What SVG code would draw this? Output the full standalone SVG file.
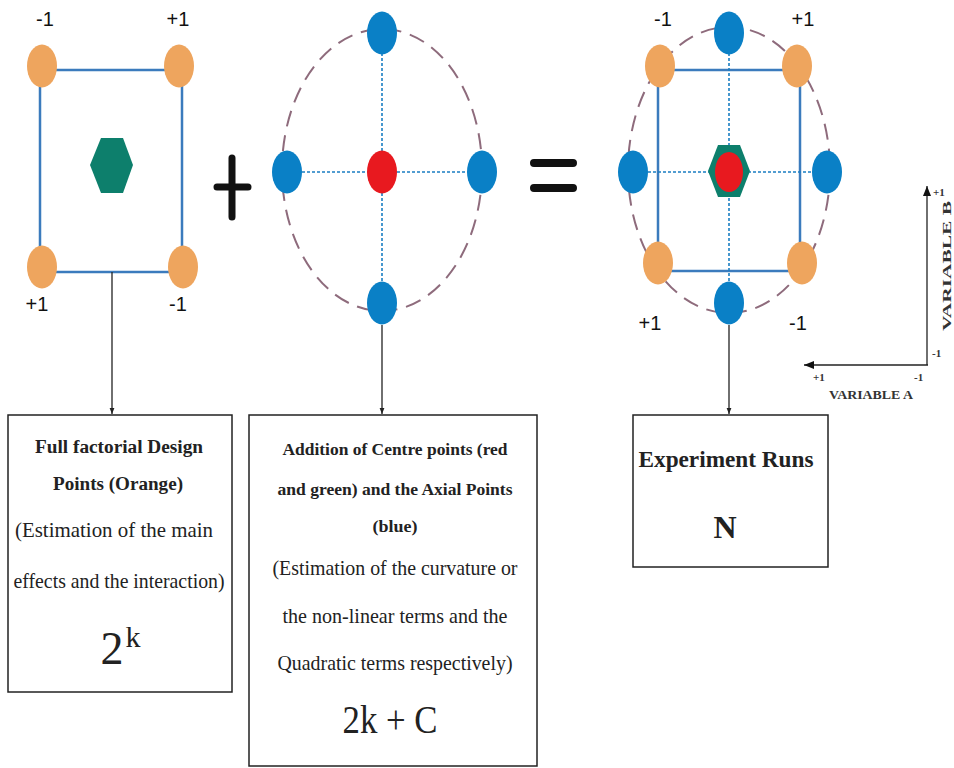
<svg xmlns="http://www.w3.org/2000/svg" width="954" height="768" viewBox="0 0 954 768">
<style>
.lbl{font-family:"Liberation Sans",Arial,sans-serif;font-size:20px;fill:#111;text-anchor:middle}
.b{font-family:"Liberation Serif","Times New Roman",serif;font-weight:bold;fill:#222;text-anchor:middle}
.r{font-family:"Liberation Serif","Times New Roman",serif;fill:#222;text-anchor:middle}
.ax{font-family:"Liberation Serif","Times New Roman",serif;font-weight:bold;fill:#333}
.or{fill:#eea55e}
.bl{fill:#0a80c6}
.rd{fill:#e8191f}
.gr{fill:#0d7f6c}
.sq{fill:none;stroke:#3b7bbd;stroke-width:2.5}
.dash{fill:none;stroke:#8e6b7c;stroke-width:2;stroke-dasharray:16 9}
.dot{fill:none;stroke:#1a7ec2;stroke-width:1.6;stroke-dasharray:3 2}
.conn{fill:none;stroke:#222;stroke-width:1.3}
.box{fill:#fff;stroke:#222;stroke-width:1.5}
.op{stroke:#111;stroke-linecap:round;fill:none}
</style>
<defs>
<marker id="arr" viewBox="0 0 10 10" refX="10" refY="5" markerWidth="6" markerHeight="6" orient="auto" markerUnits="userSpaceOnUse">
<path d="M0,1 L10,5 L0,9 Z" fill="#222"/>
</marker>
<marker id="arr2" viewBox="0 0 10 10" refX="10" refY="5" markerWidth="10" markerHeight="10" orient="auto" markerUnits="userSpaceOnUse">
<path d="M0,1 L10,5 L0,9 Z" fill="#111"/>
</marker>
</defs>
<rect width="954" height="768" fill="#fff"/>

<g id="factorial">
<rect class="sq" x="40" y="70" width="142" height="202"/>
<ellipse class="or" cx="42" cy="66" rx="15" ry="21.5"/>
<ellipse class="or" cx="179" cy="66" rx="15" ry="21.5"/>
<ellipse class="or" cx="42" cy="267" rx="15" ry="21.5"/>
<ellipse class="or" cx="183" cy="267" rx="15" ry="21.5"/>
<polygon class="gr" points="90,165 101,138 123,138 133,165 123,193 101,193"/>
<text class="lbl" x="45" y="26">-1</text>
<text class="lbl" x="178" y="26">+1</text>
<text class="lbl" x="37" y="311">+1</text>
<text class="lbl" x="178" y="311">-1</text>
</g>

<g id="plus"><path class="op" stroke-width="7" d="M232,158 V217 M217,187 H248"/></g>

<g id="axial">
<ellipse class="dash" cx="382" cy="170" rx="100" ry="141"/>
<path class="dot" d="M287,172 H482 M382,33 V303"/>
<ellipse class="bl" cx="382" cy="33" rx="15" ry="21.5"/>
<ellipse class="bl" cx="287" cy="172" rx="15" ry="21.5"/>
<ellipse class="bl" cx="482" cy="172" rx="15" ry="21.5"/>
<ellipse class="bl" cx="382" cy="303" rx="15" ry="21.5"/>
<ellipse class="rd" cx="382" cy="172" rx="15" ry="21.5"/>
</g>

<g id="equals"><path class="op" stroke-width="8" d="M534,163 H573 M534,188 H573"/></g>

<g id="ccd">
<ellipse class="dash" cx="729" cy="170" rx="101" ry="143"/>
<rect class="sq" x="658" y="70" width="142" height="201"/>
<path class="dot" d="M633,172 H827 M729,33 V303"/>
<ellipse class="or" cx="660" cy="66" rx="15" ry="21.5"/>
<ellipse class="or" cx="797" cy="66" rx="15" ry="21.5"/>
<ellipse class="or" cx="658" cy="263" rx="15" ry="21.5"/>
<ellipse class="or" cx="802" cy="263" rx="15" ry="21.5"/>
<ellipse class="bl" cx="729" cy="33" rx="15" ry="21.5"/>
<ellipse class="bl" cx="633" cy="172" rx="15" ry="21.5"/>
<ellipse class="bl" cx="827" cy="172" rx="15" ry="21.5"/>
<ellipse class="bl" cx="729" cy="303" rx="15" ry="21.5"/>
<polygon class="gr" points="708,171 718,145 740,145 750,171 740,197 718,197"/>
<ellipse class="rd" cx="729" cy="172" rx="14" ry="20"/>
<text class="lbl" x="663" y="26">-1</text>
<text class="lbl" x="803" y="26">+1</text>
<text class="lbl" x="650" y="330">+1</text>
<text class="lbl" x="798" y="330">-1</text>
</g>

<g id="axes">
<path class="conn" stroke-width="2" d="M927,365 V186" marker-end="url(#arr2)"/>
<path class="conn" stroke-width="2" d="M928,365 H804" marker-end="url(#arr2)"/>
<text class="ax" x="933" y="196" font-size="11">+1</text>
<text class="ax" x="932" y="357" font-size="11">-1</text>
<text class="ax" x="813" y="381" font-size="11">+1</text>
<text class="ax" x="914" y="381" font-size="11">-1</text>
<text class="ax" x="871" y="399" font-size="12" text-anchor="middle" textLength="84" lengthAdjust="spacingAndGlyphs">VARIABLE A</text>
<text class="ax" transform="translate(951,266) rotate(-90)" font-size="13" text-anchor="middle" textLength="130" lengthAdjust="spacingAndGlyphs">VARIABLE B</text>
</g>

<g id="connectors">
<path class="conn" d="M112,272 V414" marker-end="url(#arr)"/>
<path class="conn" d="M382,325 V414" marker-end="url(#arr)"/>
<path class="conn" d="M729,325 V414" marker-end="url(#arr)"/>
</g>

<g id="box1">
<rect class="box" x="8" y="415" width="224" height="277"/>
<text class="b" x="119" y="453" font-size="18" textLength="168" lengthAdjust="spacingAndGlyphs">Full factorial Design</text>
<text class="b" x="118" y="490" font-size="18" textLength="130" lengthAdjust="spacingAndGlyphs">Points (Orange)</text>
<text class="r" x="114" y="537" font-size="22" textLength="198" lengthAdjust="spacingAndGlyphs">(Estimation of the main</text>
<text class="r" x="119" y="588" font-size="22" textLength="211" lengthAdjust="spacingAndGlyphs">effects and the interaction)</text>
<text class="r" x="112" y="664" font-size="46">2</text>
<text class="r" x="133" y="647" font-size="30">k</text>
</g>

<g id="box2">
<rect class="box" x="249" y="415" width="288" height="351"/>
<text class="b" x="395" y="455" font-size="17" textLength="225" lengthAdjust="spacingAndGlyphs">Addition of Centre points (red</text>
<text class="b" x="395" y="495" font-size="17" textLength="235" lengthAdjust="spacingAndGlyphs">and green) and the Axial Points</text>
<text class="b" x="395" y="532" font-size="17" textLength="45" lengthAdjust="spacingAndGlyphs">(blue)</text>
<text class="r" x="395" y="575" font-size="22" textLength="245" lengthAdjust="spacingAndGlyphs">(Estimation of the curvature or</text>
<text class="r" x="395" y="623" font-size="22" textLength="225" lengthAdjust="spacingAndGlyphs">the non-linear terms and the</text>
<text class="r" x="395" y="670" font-size="22" textLength="235" lengthAdjust="spacingAndGlyphs">Quadratic terms respectively)</text>
<text class="r" x="390" y="733" font-size="40" textLength="95" lengthAdjust="spacingAndGlyphs">2k + C</text>
</g>

<g id="box3">
<rect class="box" x="633" y="415" width="195" height="152"/>
<text class="b" x="726" y="467" font-size="24" textLength="175" lengthAdjust="spacingAndGlyphs">Experiment Runs</text>
<text class="b" x="725" y="538" font-size="32">N</text>
</g>
</svg>
